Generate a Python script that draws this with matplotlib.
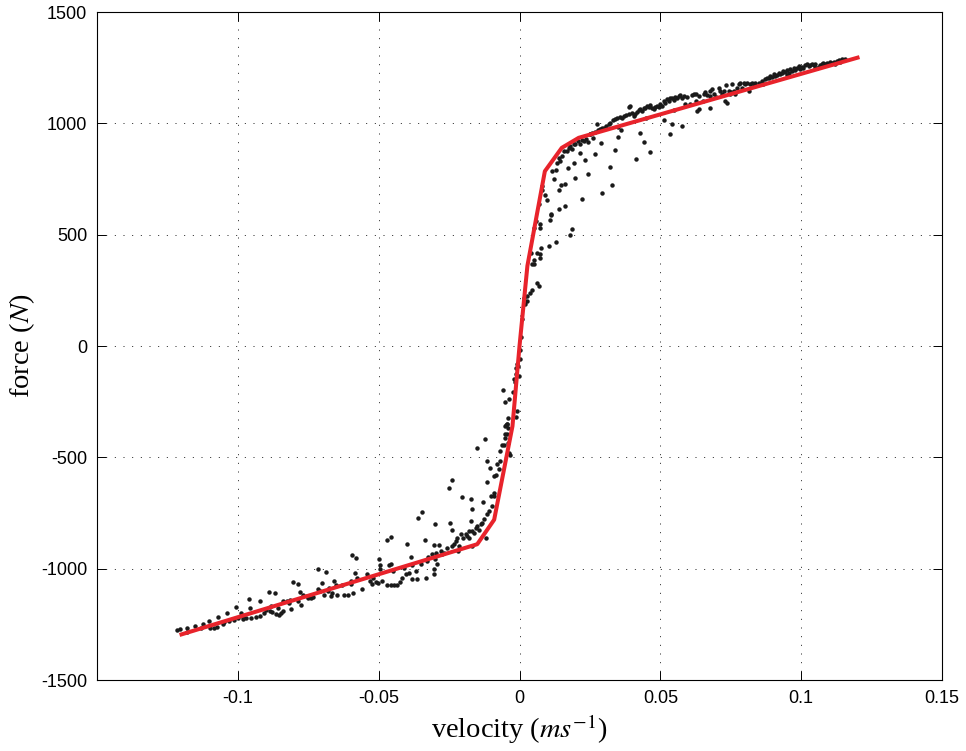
import numpy as np
import matplotlib
matplotlib.use("Agg")
import matplotlib.pyplot as plt

plt.rcParams['font.family'] = ['Liberation Sans', 'DejaVu Sans']
plt.rcParams['mathtext.fontset'] = 'stix'
plt.rcParams['axes.unicode_minus'] = False

# measured damper points: velocity [m/s], force [N]
vel_neg = [-0.1216, -0.1204, -0.1181, -0.1152, -0.1122, -0.1102, -0.1098, -0.1084, -0.1072, -0.1074,
           -0.1051, -0.1037, -0.1031, -0.1015, -0.1008, -0.0999, -0.0987, -0.0983, -0.0972, -0.0960,
           -0.0957, -0.0954, -0.0936, -0.0921, -0.0922, -0.0907, -0.0891, -0.0885, -0.0883, -0.0877,
           -0.0868, -0.0865, -0.0859, -0.0853, -0.0847, -0.0838, -0.0838, -0.0826, -0.0814, -0.0812,
           -0.0804, -0.0788, -0.0786, -0.0779, -0.0777, -0.0767, -0.0753, -0.0741, -0.0732, -0.0717,
           -0.0717, -0.0708, -0.0700, -0.0694, -0.0686, -0.0676, -0.0670, -0.0664, -0.0658, -0.0652,
           -0.0647,
           -0.0629, -0.0623, -0.0609, -0.0599, -0.0590, -0.0593, -0.0582, -0.0585, -0.0576, -0.0558,
           -0.0540, -0.0531, -0.0522, -0.0511, -0.0502, -0.0499, -0.0495, -0.0495, -0.0487, -0.0472,
           -0.0458, -0.0464, -0.0455, -0.0469, -0.0458, -0.0446, -0.0434, -0.0424, -0.0416, -0.0410,
           -0.0404, -0.0398, -0.0392, -0.0387, -0.0381, -0.0369, -0.0363, -0.0361, -0.0345, -0.0351,
           -0.0337, -0.0333, -0.0328, -0.0325, -0.0310, -0.0304, -0.0300, -0.0298, -0.0304, -0.0302,
           -0.0292, -0.0286, -0.0280, -0.0274, -0.0268, -0.0259, -0.0251, -0.0247, -0.0239, -0.0239,
           -0.0239, -0.0233, -0.0224, -0.0221, -0.0215, -0.0209, -0.0203, -0.0200, -0.0191, -0.0188,
           -0.0180, -0.0180, -0.0174, -0.0171, -0.0168, -0.0168, -0.0162, -0.0156, -0.0150, -0.0150,
           -0.0144, -0.0138, -0.0132, -0.0129, -0.0127, -0.0124, -0.0117, -0.0115, -0.0115, -0.0109,
           -0.0105, -0.0103, -0.0097, -0.0091, -0.0091, -0.0089, -0.0085, -0.0079, -0.0073, -0.0070,
           -0.0068, -0.0062, -0.0056, -0.0050, -0.0047, -0.0044, -0.0040, -0.0038, -0.0034,
           -0.0053, -0.0046, -0.0041, -0.0041, -0.0046, -0.0053, -0.0058, -0.0050, -0.0038, -0.0014,
           -0.0022, -0.0017, -0.0014, -0.0011, -0.0006, -0.0002, 0.0001, -0.0008]
force_neg = [-1277, -1270, -1265, -1259, -1247, -1235, -1268, -1268, -1217, -1262,
             -1250, -1198, -1235, -1232, -1172, -1220, -1198, -1228, -1220, -1138,
             -1176, -1220, -1217, -1146, -1213, -1198, -1104, -1190, -1168, -1193,
             -1111, -1205, -1176, -1208, -1198, -1190, -1143, -1143, -1140, -1183,
             -1059, -1068, -1143, -1104, -1165, -1116, -1123, -1131, -1128, -1003,
             -1089, -1101, -1063, -1120, -1014, -1086, -1123, -1108, -1056, -1071,
             -1116,
             -1071, -1116, -1116, -1056, -1108, -939, -954, -1018, -1041, -1089,
             -1026, -1056, -1068, -1059, -1063, -958, -984, -1003, -1056, -873,
             -858, -984, -981, -1071, -1071, -1074, -1071, -1059, -1041, -996,
             -1026, -888, -1018, -948, -1048, -1011, -1048, -771, -746, -981,
             -873, -1041, -966, -948, -933, -894, -798, -928, -1023, -1003,
             -978, -894, -921, -936, -928, -906, -636, -794, -603, -824,
             -898, -888, -876, -864, -898, -846, -678, -861, -843, -854,
             -831, -861, -689, -786, -734, -831, -839, -816, -460, -809,
             -824, -801, -794, -701, -779, -419, -517, -609, -756, -741,
             -547, -674, -719, -584, -674, -659, -577, -532, -554, -517,
             -472, -445, -446, -397, -355, -349, -434, -479, -490,
             -412, -394, -367, -322, -352, -359, -198, -250, -240, -319,
             -205, -160, -124, -100, -90, -135, -60, -292]

vel_pos = [0.0021, 0.0015, 0.0025, 0.0027, 0.0037, 0.0045, 0.0069, 0.0063, 0.0051, 0.0045,
           0.0051, 0.0072, 0.0072, 0.0063, 0.0078, 0.0104, 0.0131,
           0.0181, 0.0187, 0.0051, 0.0074, 0.0072, 0.0107, 0.0110, 0.0112, 0.0139, 0.0163,
           0.0222, 0.0293, 0.0329, 0.0098, 0.0092, 0.0068, 0.0080, 0.0139, 0.0149, 0.0163,
           0.0198, 0.0242, 0.0323, 0.0124, 0.0116, 0.0128, 0.0133, 0.0145, 0.0171, 0.0193,
           0.0234, 0.0267, 0.0338, 0.0415, 0.0441, 0.0464, 0.0349, 0.0361, 0.0429, 0.0290,
           0.0275, 0.0139, 0.0151, 0.0157, 0.0169, 0.0175, 0.0181, 0.0187, 0.0193, 0.0198,
           0.0207, 0.0216, 0.0216, 0.0222, 0.0230, 0.0237, 0.0243, 0.0249, 0.0258, 0.0261,
           0.0269, 0.0278, 0.0285, 0.0293, 0.0301, 0.0308, 0.0317, 0.0323, 0.0332, 0.0340,
           0.0346, 0.0356, 0.0364, 0.0370, 0.0379, 0.0388, 0.0388, 0.0394, 0.0399, 0.0405,
           0.0411, 0.0417, 0.0423, 0.0429, 0.0435, 0.0441, 0.0447, 0.0453, 0.0459, 0.0464,
           0.0470, 0.0476, 0.0482, 0.0488, 0.0494, 0.0500, 0.0506, 0.0512, 0.0518, 0.0524,
           0.0530, 0.0535, 0.0541, 0.0547, 0.0553, 0.0559, 0.0565, 0.0571, 0.0577, 0.0583,
           0.0589, 0.0595, 0.0606, 0.0612, 0.0618, 0.0630, 0.0636, 0.0512, 0.0541, 0.0577,
           0.0533,
           0.0628, 0.0636, 0.0628, 0.0654, 0.0660, 0.0666, 0.0675, 0.0677, 0.0675, 0.0683,
           0.0689, 0.0699, 0.0707, 0.0710, 0.0719, 0.0725, 0.0731, 0.0734, 0.0736, 0.0742,
           0.0748, 0.0754, 0.0760, 0.0766, 0.0772, 0.0778, 0.0784, 0.0790, 0.0796, 0.0801,
           0.0807, 0.0813, 0.0819, 0.0825, 0.0831, 0.0837, 0.0861, 0.0866, 0.0872, 0.0878,
           0.0884, 0.0890, 0.0896, 0.0902, 0.0908, 0.0914, 0.0920, 0.0926, 0.0931, 0.0937,
           0.0943, 0.0949, 0.0955, 0.0961, 0.0967, 0.0973, 0.0979, 0.0985, 0.0991, 0.0996,
           0.1002, 0.1008, 0.1014, 0.1020, 0.1026, 0.1032, 0.1038, 0.1044, 0.1050, 0.1056,
           0.1062, 0.1068, 0.1073, 0.1079, 0.1085, 0.1091, 0.1097, 0.1103, 0.1109, 0.1115,
           0.1121, 0.1127, 0.1133, 0.1138, 0.1144, 0.1150, 0.1156]
force_pos = [190, 214, 202, 225, 240, 250, 270, 285, 370, 370,
             386, 397, 415, 419, 439, 451, 469,
             499, 524, 529, 529, 550, 565, 589, 595, 614, 629,
             659, 689, 722, 654, 678, 636, 719, 699, 722, 729,
             753, 774, 804, 749, 786, 789, 824, 831, 798, 824,
             834, 861, 879, 839, 916, 873, 939, 969, 958, 913,
             996, 846, 854, 876, 876, 891, 899, 884, 906, 909,
             921, 906, 869, 924, 921, 931, 918, 951, 958, 936,
             963, 969, 973, 978, 981, 988, 996, 1003, 1014, 1018,
             1026, 1029, 1023, 1033, 1038, 1041, 1074, 1078, 1048, 1033,
             1041, 1053, 1059, 1063, 1056, 1068, 1071, 1078, 1074, 1083,
             1071, 1063, 1074, 1078, 1074, 1086, 1078, 1101, 1093, 1108,
             1101, 1113, 1116, 1104, 1119, 1113, 1123, 1128, 1116, 1123,
             1086, 1119, 1086, 1128, 1131, 1056, 1063, 1014, 999, 988,
             951,
             1131, 1123, 1101, 1134, 1143, 1128, 1146, 1123, 1068, 1153,
             1131, 1119, 1161, 1146, 1134, 1146, 1101, 1173, 1093, 1146,
             1131, 1176, 1146, 1134, 1161, 1176, 1180, 1161, 1183, 1176,
             1183, 1146, 1176, 1183, 1168, 1179, 1191, 1176, 1198, 1202,
             1205, 1213, 1208, 1220, 1213, 1217, 1228, 1223, 1228, 1235,
             1232, 1238, 1228, 1243, 1235, 1247, 1238, 1250, 1258, 1243,
             1253, 1250, 1262, 1265, 1258, 1262, 1268, 1262, 1265, 1250,
             1253, 1262, 1268, 1273, 1265, 1273, 1268, 1277, 1273, 1277,
             1268, 1280, 1283, 1277, 1288, 1283, 1288]

# points lying under the fitted curve
vel_mid = [-0.118, -0.113, -0.105, -0.098, -0.090, -0.082, -0.075, -0.068, -0.060, -0.052,
           -0.045, -0.038, -0.030, -0.022, -0.017, -0.012, -0.002, -0.001, 0.000, 0.0005,
           0.001, 0.004, 0.006, 0.008, 0.025, 0.035, 0.045, 0.055, 0.065, 0.075,
           0.085, 0.095, 0.105]
force_mid = [-1285, -1268, -1240, -1215, -1185, -1155, -1130, -1100, -1070, -1040,
             -1012, -985, -955, -922, -900, -860, -150, -80, -20, 40,
             120, 420, 560, 700, 950, 985, 1025, 1060, 1100, 1140,
             1180, 1215, 1250]

# fitted model (piecewise linear)
fit_v = [-0.12, -0.015, -0.009, -0.0025, 0.0, 0.0028, 0.009, 0.015, 0.021, 0.12]
fit_f = [-1295, -890, -780, -360, 0, 360, 785, 890, 935, 1295]

xtick_vals = [-0.1, -0.05, 0, 0.05, 0.1, 0.15]
xtick_lbls = ['-0.1', '-0.05', '0', '0.05', '0.1', '0.15']
ytick_vals = [-1500, -1000, -500, 0, 500, 1000, 1500]
ytick_lbls = ['-1500', '-1000', '-500', '0', '500', '1000', '1500']

fig = plt.figure(figsize=(9.66, 7.51), dpi=100)
ax = fig.add_axes([0.1004, 0.0945, 0.8748, 0.8895])

v_all = vel_neg + vel_pos + vel_mid
f_all = force_neg + force_pos + force_mid
ax.plot(v_all, f_all, linestyle='none', marker='o', markersize=2.2,
        color='#1a1a1a', zorder=2)
ax.plot(fit_v, fit_f, color='#e8232b', linewidth=2.9, zorder=3)

ax.set_xlim(-0.15, 0.15)
ax.set_ylim(-1500, 1500)
ax.set_xticks(xtick_vals)
ax.set_xticklabels(xtick_lbls)
ax.set_yticks(ytick_vals)
ax.set_yticklabels(ytick_lbls)
ax.tick_params(direction='in', top=True, right=True, length=6.5, width=0.7,
               labelsize=13, pad=7)
ax.grid(True, color='black', linestyle=(0, (1.2, 9.2)), linewidth=0.6)
for s in ax.spines.values():
    s.set_linewidth(0.8)

ax.set_xlabel(r'velocity ($ms^{-1}$)', family='Liberation Serif', fontsize=20.5, labelpad=4)
ax.set_ylabel(r'force ($N$)', family='Liberation Serif', fontsize=20.5, labelpad=3)

fig.savefig('out.png', dpi=100)
